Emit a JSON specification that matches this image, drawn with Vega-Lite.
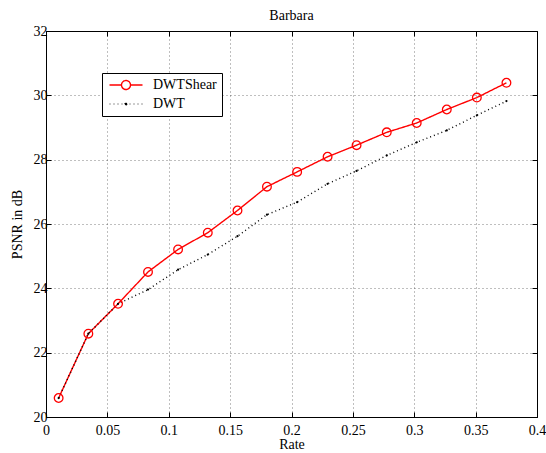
{
  "$schema": "https://vega.github.io/schema/vega-lite/v6.json",
  "width": 491,
  "height": 386,
  "autosize": "none",
  "padding": {"left": 46, "top": 31, "right": 9, "bottom": 36},
  "title": {"text": "Barbara", "font": "Liberation Serif", "fontSize": 14, "fontWeight": "normal", "color": "black", "offset": 1},
  "data": {
    "values": [
      {"rate": 0.0103, "psnr": 20.59, "series": "DWTShear"},
      {"rate": 0.0345, "psnr": 22.59, "series": "DWTShear"},
      {"rate": 0.0587, "psnr": 23.52, "series": "DWTShear"},
      {"rate": 0.0831, "psnr": 24.51, "series": "DWTShear"},
      {"rate": 0.1076, "psnr": 25.21, "series": "DWTShear"},
      {"rate": 0.1318, "psnr": 25.73, "series": "DWTShear"},
      {"rate": 0.156, "psnr": 26.42, "series": "DWTShear"},
      {"rate": 0.180, "psnr": 27.16, "series": "DWTShear"},
      {"rate": 0.2046, "psnr": 27.62, "series": "DWTShear"},
      {"rate": 0.2294, "psnr": 28.09, "series": "DWTShear"},
      {"rate": 0.253, "psnr": 28.45, "series": "DWTShear"},
      {"rate": 0.2776, "psnr": 28.85, "series": "DWTShear"},
      {"rate": 0.302, "psnr": 29.14, "series": "DWTShear"},
      {"rate": 0.3265, "psnr": 29.56, "series": "DWTShear"},
      {"rate": 0.351, "psnr": 29.93, "series": "DWTShear"},
      {"rate": 0.3751, "psnr": 30.39, "series": "DWTShear"},
      {"rate": 0.0103, "psnr": 20.59, "series": "DWT"},
      {"rate": 0.0345, "psnr": 22.59, "series": "DWT"},
      {"rate": 0.0587, "psnr": 23.52, "series": "DWT"},
      {"rate": 0.0831, "psnr": 23.96, "series": "DWT"},
      {"rate": 0.1076, "psnr": 24.58, "series": "DWT"},
      {"rate": 0.1318, "psnr": 25.05, "series": "DWT"},
      {"rate": 0.156, "psnr": 25.62, "series": "DWT"},
      {"rate": 0.180, "psnr": 26.29, "series": "DWT"},
      {"rate": 0.2046, "psnr": 26.68, "series": "DWT"},
      {"rate": 0.2294, "psnr": 27.25, "series": "DWT"},
      {"rate": 0.253, "psnr": 27.65, "series": "DWT"},
      {"rate": 0.2776, "psnr": 28.13, "series": "DWT"},
      {"rate": 0.302, "psnr": 28.54, "series": "DWT"},
      {"rate": 0.3265, "psnr": 28.91, "series": "DWT"},
      {"rate": 0.351, "psnr": 29.38, "series": "DWT"},
      {"rate": 0.3751, "psnr": 29.82, "series": "DWT"}
    ]
  },
  "resolve": {"axis": {"x": "independent", "y": "independent"}},
  "layer": [
    {
      "mark": {"type": "line", "strokeWidth": 1.4},
      "encoding": {
        "x": {"field": "rate", "type": "quantitative", "scale": {"domain": [0, 0.4], "nice": false},
          "axis": {"title": "Rate", "values": [0, 0.05, 0.1, 0.15, 0.2, 0.25, 0.3, 0.35, 0.4], "format": ".2~f", "labelFlush": false, "labelOverlap": false, "tickSize": -5, "labelPadding": 11, "titlePadding": 0}},
        "y": {"field": "psnr", "type": "quantitative", "scale": {"domain": [20, 32], "nice": false, "zero": false},
          "axis": {"title": "PSNR in dB", "values": [20, 22, 24, 26, 28, 30, 32], "labelFlush": false, "labelOverlap": false, "tickSize": -5, "labelPadding": 4, "titlePadding": 9}},
        "color": {"field": "series", "type": "nominal",
          "scale": {"domain": ["DWTShear", "DWT"], "range": ["#ff0000", "#000000"]},
          "legend": {
            "orient": "none", "legendX": 56, "legendY": 42, "title": null,
            "strokeColor": "black", "fillColor": "white", "padding": 5,
            "symbolSize": 100, "symbolOffset": 12, "labelOffset": 20, "rowPadding": 4,
            "labelFont": "Liberation Serif", "labelFontSize": 14, "labelColor": "black",
            "symbolStrokeWidth": 1.4,
            "encode": {"symbols": {"update": {
              "shape": {"signal": "datum.value === 'DWTShear' ? 'M-3.3,0L-0.9,0M0.9,0L3.3,0M-0.9,0A0.9,0.9 0 1,1 0.9,0A0.9,0.9 0 1,1 -0.9,0' : 'M-3.3,0L3.3,0M-0.25,0A0.25,0.25 0 1,1 0.25,0A0.25,0.25 0 1,1 -0.25,0'"},
              "fill": {"signal": "datum.value === 'DWTShear' ? 'transparent' : 'black'"},
              "strokeDash": {"signal": "datum.value === 'DWTShear' ? [1,0] : [1,3]"},
              "strokeWidth": {"signal": "datum.value === 'DWTShear' ? 1.4 : 0.8"}
            }}}
          }},
        "strokeDash": {"field": "series", "type": "nominal", "scale": {"domain": ["DWTShear", "DWT"], "range": [[1, 0], [1, 3]]}, "legend": null},
        "strokeWidth": {"field": "series", "type": "nominal", "scale": {"domain": ["DWTShear", "DWT"], "range": [1.4, 0.8]}, "legend": null}
      }
    },
    {
      "transform": [{"filter": "datum.series === 'DWTShear'"}],
      "mark": {"type": "point", "shape": "circle", "filled": false, "color": "#ff0000", "size": 75, "strokeWidth": 1.3, "opacity": 1},
      "encoding": {
        "x": {"field": "rate", "type": "quantitative", "axis": null},
        "y": {"field": "psnr", "type": "quantitative", "axis": null}
      }
    },
    {
      "transform": [{"filter": "datum.series === 'DWT'"}],
      "mark": {"type": "point", "shape": "circle", "filled": true, "color": "#000000", "size": 5, "opacity": 1},
      "encoding": {
        "x": {"field": "rate", "type": "quantitative", "axis": null},
        "y": {"field": "psnr", "type": "quantitative", "axis": null}
      }
    },
    {
      "mark": {"type": "point", "opacity": 0},
      "encoding": {
        "x": {"field": "rate", "type": "quantitative",
          "axis": {"orient": "top", "title": null, "labels": false, "grid": false, "domain": false, "values": [0, 0.05, 0.1, 0.15, 0.2, 0.25, 0.3, 0.35, 0.4], "tickSize": -5}},
        "y": {"field": "psnr", "type": "quantitative",
          "axis": {"orient": "right", "title": null, "labels": false, "grid": false, "domain": false, "values": [20, 22, 24, 26, 28, 30, 32], "tickSize": -5}}
      }
    }
  ],
  "config": {
    "view": {"stroke": "black", "strokeWidth": 1},
    "axis": {
      "labelFont": "Liberation Serif", "labelFontSize": 14, "labelColor": "black",
      "titleFont": "Liberation Serif", "titleFontSize": 14, "titleFontWeight": "normal", "titleColor": "black",
      "domainColor": "black", "tickColor": "black", "tickWidth": 1,
      "grid": true, "gridColor": "#000000", "gridOpacity": 0.5, "gridDash": [1, 3], "gridWidth": 1
    }
  }
}
